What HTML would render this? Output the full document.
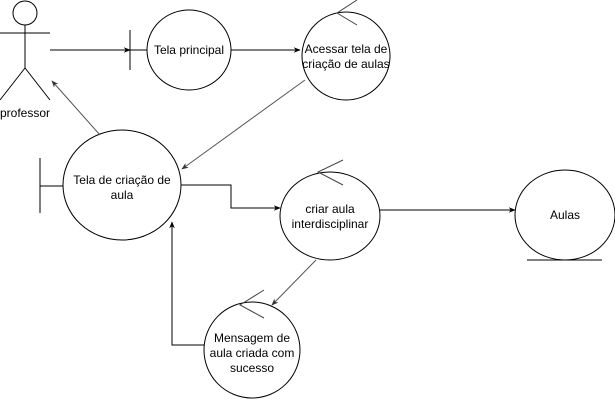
<!DOCTYPE html>
<html><head><style>body{margin:0;background:#fff}svg{display:block}text{font-family:"Liberation Sans",sans-serif;font-size:12px;fill:#000}</style></head><body>
<svg width="615" height="401" viewBox="0 0 615 401" xmlns="http://www.w3.org/2000/svg">
<defs>
<marker id="a" viewBox="0 0 10 10" refX="9" refY="5" markerWidth="7" markerHeight="7" orient="auto"><path d="M0,1 L10,5 L0,9 L3,5Z" fill="#000"/></marker>
<marker id="g" viewBox="0 0 10 10" refX="9" refY="5" markerWidth="7" markerHeight="7" orient="auto"><path d="M0,1 L10,5 L0,9 L3,5Z" fill="#333"/></marker>
</defs>
<g fill="none" stroke="#000" stroke-width="1">
<!-- actor -->
<circle cx="25" cy="13" r="12"/>
<line x1="25" y1="25" x2="25" y2="68"/>
<line x1="0" y1="33" x2="50" y2="33"/>
<line x1="25" y1="68" x2="0" y2="100"/>
<line x1="25" y1="68" x2="50" y2="100"/>
<!-- tela principal -->
<ellipse cx="189" cy="50" rx="42" ry="40"/>
<line x1="130" y1="30" x2="130" y2="70"/>
<line x1="130" y1="50" x2="147" y2="50"/>
<line x1="50" y1="50" x2="130" y2="50" marker-end="url(#a)"/>
<line x1="231" y1="50" x2="300" y2="50" marker-end="url(#a)"/>
<!-- acessar -->
<ellipse cx="346" cy="56" rx="44" ry="44"/>
<polyline points="357,0 337,13 357,25" stroke="#444"/>
<!-- tela criação -->
<ellipse cx="122" cy="185" rx="59" ry="55"/>
<line x1="40" y1="158" x2="40" y2="213"/>
<line x1="40" y1="186" x2="63" y2="186"/>
<line x1="305" y1="80" x2="182" y2="169" stroke="#555" marker-end="url(#g)"/>
<line x1="100" y1="135" x2="52" y2="81" stroke="#555" marker-end="url(#g)"/>
<polyline points="181,185 231,185 231,208 280,208" marker-end="url(#a)"/>
<!-- criar aula -->
<ellipse cx="330" cy="216" rx="50" ry="44"/>
<polyline points="343,160 318,172 343,185" stroke="#444"/>
<line x1="380" y1="210" x2="515" y2="210" marker-end="url(#a)"/>
<!-- aulas -->
<ellipse cx="565" cy="215" rx="50" ry="45"/>
<line x1="527" y1="260" x2="602" y2="260"/>
<line x1="316" y1="260" x2="272" y2="305" stroke="#555" marker-end="url(#g)"/>
<!-- mensagem -->
<ellipse cx="252" cy="350" rx="48" ry="48"/>
<polyline points="264,290 240,305 264,318" stroke="#444"/>
<polyline points="204,345 172,345 172,222" marker-end="url(#a)"/>
</g>
<text x="25" y="117" text-anchor="middle">professor</text>
<text x="189" y="54" text-anchor="middle">Tela principal</text>
<text x="346" y="53" text-anchor="middle">Acessar tela de</text>
<text x="346" y="68" text-anchor="middle">criação de aulas</text>
<text x="122" y="184" text-anchor="middle">Tela de criação de</text>
<text x="122" y="199" text-anchor="middle">aula</text>
<text x="330" y="213" text-anchor="middle">criar aula</text>
<text x="330" y="228" text-anchor="middle">interdisciplinar</text>
<text x="565" y="219" text-anchor="middle">Aulas</text>
<text x="252" y="342" text-anchor="middle">Mensagem de</text>
<text x="252" y="357" text-anchor="middle">aula criada com</text>
<text x="252" y="372" text-anchor="middle">sucesso</text>
</svg>
</body></html>
